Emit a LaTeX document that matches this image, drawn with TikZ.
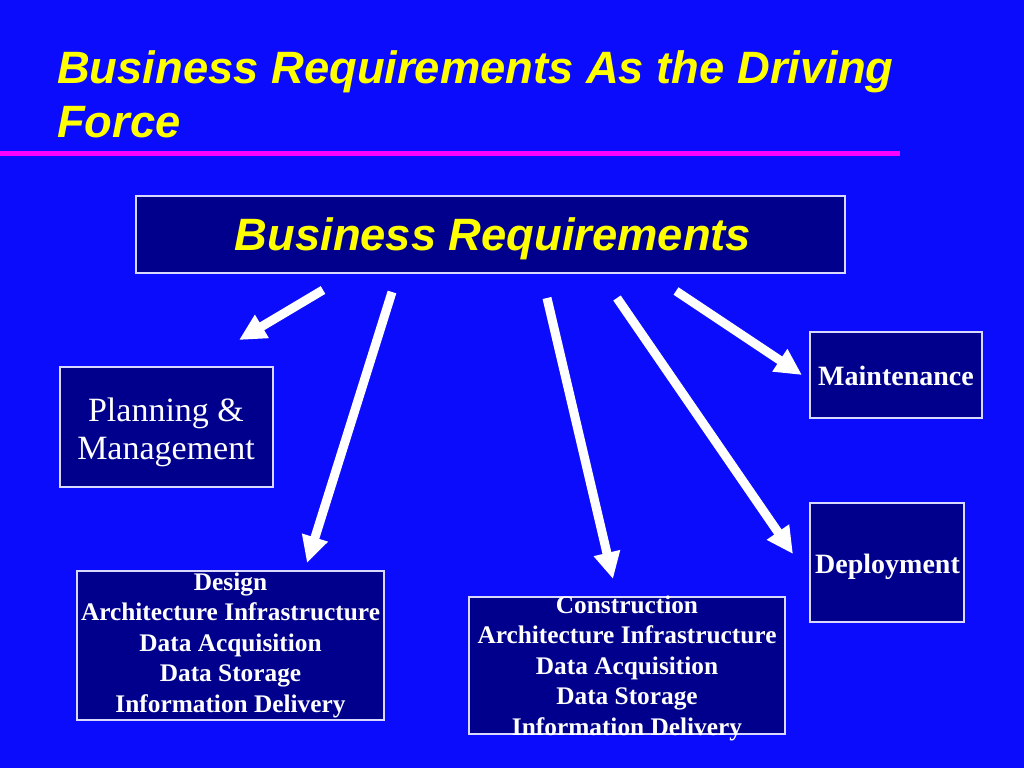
\documentclass[tikz,border=0pt]{standalone}
\usepackage{fontspec}
\setmainfont{Liberation Serif}
\newfontfamily\headfont{Liberation Sans}
\usetikzlibrary{arrows.meta}
\definecolor{slideblue}{RGB}{12,12,252}
\definecolor{boxnavy}{RGB}{0,0,140}
\definecolor{headyellow}{RGB}{255,255,0}
\definecolor{rulemagenta}{RGB}{255,0,255}

\begin{document}
\begin{tikzpicture}[x=0.75pt,y=-0.75pt,
  box/.style 2 args={draw=white!85!blue, line width=1pt, fill=boxnavy, inner sep=0pt,
    minimum width=#1*0.75pt, minimum height=#2*0.75pt},
  headtext/.style={text=headyellow, inner sep=0pt, anchor=base west,
    font=\headfont\bfseries\itshape\fontsize{34}{40}\selectfont},
  listtext/.style={text=white, inner sep=0pt, align=center,
    font=\bfseries\fontsize{19}{22.9}\selectfont},
  phasetext/.style={text=white, inner sep=0pt, anchor=base,
    font=\bfseries\fontsize{21}{25}\selectfont},
  bigarrow/.style={white, line width=6.75pt, -{Triangle[length=20pt,width=19pt]}}]
\fill[slideblue] (0,0) rectangle (1024,768);
\useasboundingbox (0,0) rectangle (1024,768);

% title
\node[headtext] (title1) at (57,83) {Business Requirements As the Driving};
\node[headtext] (title2) at (57,137) {Force};
\draw[rulemagenta, line width=3.75pt] (0,153) -- (900,153);

% boxes
\node[box={709}{77}] (bizreq) at (490.5,234.5) {};
\node[headtext, anchor=base] (bizreqtext) at (493,250) {Business Requirements};

\node[box={213}{120}] (planning) at (166.5,427) {};
\node[text=white, inner sep=0pt, align=center,
  font=\fontsize{25.5}{28.5}\selectfont] (planningtext) at (166,432.5) {Planning \&\\Management};

\node[box={307}{149}] (design) at (230.5,645.5) {};
\node[listtext] (designtext) at (230.5,645) {Design\\Architecture Infrastructure\\Data Acquisition\\Data Storage\\Information Delivery};

\node[box={316}{137}] (construction) at (627,665.5) {};
\node[listtext] (constructiontext) at (627,668) {Construction\\Architecture Infrastructure\\Data Acquisition\\Data Storage\\Information Delivery};

\node[box={172}{86}] (maintenance) at (896,375) {};
\node[phasetext] (maintenancetext) at (896,385) {Maintenance};

\node[box={154}{119}] (deployment) at (887,562.5) {};
\node[phasetext] (deploymenttext) at (887.5,573) {Deployment};

% arrows
\coordinate (planfrom) at (323,290);
\coordinate (planto) at (239,340);
\coordinate (designfrom) at (392,292);
\coordinate (designto) at (307,563);
\coordinate (constrfrom) at (547,298);
\coordinate (constrto) at (613,579);
\coordinate (deployfrom) at (617,298);
\coordinate (deployto) at (793,554);
\coordinate (maintfrom) at (676,291);
\coordinate (maintto) at (802,375);
\draw[bigarrow] (planfrom) -- (planto);
\draw[bigarrow] (designfrom) -- (designto);
\draw[bigarrow] (constrfrom) -- (constrto);
\draw[bigarrow] (deployfrom) -- (deployto);
\draw[bigarrow] (maintfrom) -- (maintto);
\end{tikzpicture}
\end{document}
